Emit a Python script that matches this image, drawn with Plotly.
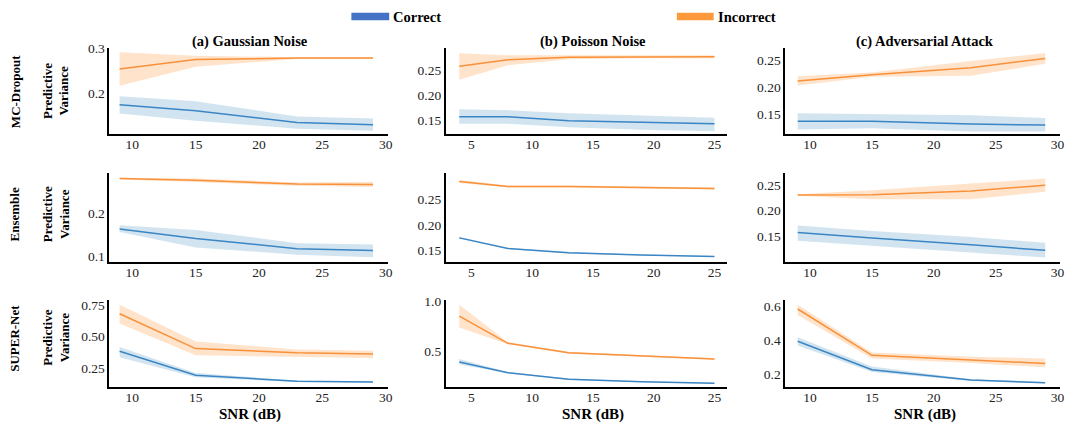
import plotly.graph_objects as go

W, H = 1076, 429

# ---------------- data ----------------
snr_gauss = [9, 15, 23, 29]
snr_poisson = [4, 8, 13, 19, 25]
snr_adv = [9, 15, 23, 29]

# MC-Dropout
mc_g_inc = [0.254, 0.275, 0.278, 0.278]
mc_g_inc_lo = [0.217, 0.259, 0.276, 0.276]
mc_g_inc_hi = [0.291, 0.283, 0.280, 0.280]
mc_g_cor = [0.175, 0.162, 0.136, 0.131]
mc_g_cor_lo = [0.156, 0.140, 0.122, 0.118]
mc_g_cor_hi = [0.194, 0.183, 0.149, 0.145]

mc_p_inc = [0.258, 0.271, 0.276, 0.277, 0.277]
mc_p_inc_lo = [0.231, 0.260, 0.272, 0.274, 0.274]
mc_p_inc_hi = [0.284, 0.280, 0.280, 0.280, 0.280]
mc_p_cor = [0.157, 0.157, 0.149, 0.146, 0.143]
mc_p_cor_lo = [0.143, 0.143, 0.136, 0.131, 0.128]
mc_p_cor_hi = [0.172, 0.170, 0.164, 0.159, 0.155]

mc_a_inc = [0.2115, 0.223, 0.236, 0.253]
mc_a_inc_lo = [0.203, 0.219, 0.221, 0.243]
mc_a_inc_hi = [0.220, 0.227, 0.248, 0.263]
mc_a_cor = [0.137, 0.137, 0.132, 0.130]
mc_a_cor_lo = [0.122, 0.124, 0.118, 0.118]
mc_a_cor_hi = [0.152, 0.150, 0.148, 0.143]

# Ensemble
en_g_inc = [0.282, 0.278, 0.269, 0.268]
en_g_inc_lo = [0.280, 0.274, 0.265, 0.262]
en_g_inc_hi = [0.284, 0.282, 0.273, 0.274]
en_g_cor = [0.164, 0.142, 0.118, 0.114]
en_g_cor_lo = [0.157, 0.121, 0.104, 0.098]
en_g_cor_hi = [0.173, 0.162, 0.131, 0.128]

en_p_inc = [0.286, 0.276, 0.276, 0.274, 0.272]
en_p_inc_lo = [0.283, 0.274, 0.274, 0.272, 0.270]
en_p_inc_hi = [0.289, 0.278, 0.278, 0.276, 0.274]
en_p_cor = [0.174, 0.153, 0.1445, 0.140, 0.137]
en_p_cor_lo = [0.173, 0.152, 0.143, 0.139, 0.136]
en_p_cor_hi = [0.176, 0.154, 0.146, 0.141, 0.138]

en_a_inc = [0.2306, 0.231, 0.2385, 0.250]
en_a_inc_lo = [0.229, 0.2225, 0.2225, 0.237]
en_a_inc_hi = [0.232, 0.240, 0.253, 0.263]
en_a_cor = [0.157, 0.146, 0.133, 0.122]
en_a_cor_lo = [0.141, 0.132, 0.118, 0.108]
en_a_cor_hi = [0.171, 0.160, 0.148, 0.137]

# SUPER-Net
sn_g_inc = [0.682, 0.405, 0.371, 0.361]
sn_g_inc_lo = [0.604, 0.351, 0.340, 0.330]
sn_g_inc_hi = [0.755, 0.462, 0.398, 0.387]
sn_g_cor = [0.384, 0.193, 0.144, 0.138]
sn_g_cor_lo = [0.336, 0.177, 0.139, 0.133]
sn_g_cor_hi = [0.418, 0.211, 0.149, 0.143]

sn_p_inc = [0.856, 0.582, 0.486, 0.455, 0.424]
sn_p_inc_lo = [0.740, 0.572, 0.478, 0.448, 0.417]
sn_p_inc_hi = [0.970, 0.592, 0.494, 0.462, 0.431]
sn_p_cor = [0.395, 0.287, 0.221, 0.195, 0.180]
sn_p_cor_lo = [0.370, 0.280, 0.215, 0.190, 0.175]
sn_p_cor_hi = [0.424, 0.294, 0.227, 0.200, 0.185]

sn_a_inc = [0.585, 0.310, 0.283, 0.262]
sn_a_inc_lo = [0.550, 0.292, 0.265, 0.239]
sn_a_inc_hi = [0.610, 0.327, 0.301, 0.292]
sn_a_cor = [0.394, 0.225, 0.163, 0.148]
sn_a_cor_lo = [0.368, 0.211, 0.158, 0.144]
sn_a_cor_hi = [0.417, 0.244, 0.168, 0.152]

col_titles = ["(a) Gaussian Noise", "(b) Poisson Noise", "(c) Adversarial Attack"]
row_titles = ["MC-Dropout", "Ensemble", "SUPER-Net"]
x_label = "SNR (dB)"
y_label = "Predictive<br>Variance"
legend_names = ["Correct", "Incorrect"]

x_ticks = [[10, 15, 20, 25, 30], [5, 10, 15, 20, 25], [10, 15, 20, 25, 30]]
x_ranges = [[8.2, 30.2], [2.9, 26.0], [8.0, 30.2]]
y_ticks = [
    [[0.2, 0.3], [0.15, 0.20, 0.25], [0.15, 0.20, 0.25]],
    [[0.1, 0.2], [0.15, 0.20, 0.25], [0.15, 0.20, 0.25]],
    [[0.25, 0.50, 0.75], [0.5, 1.0], [0.2, 0.4, 0.6]],
]
y_fmt = [
    [".1f", ".2f", ".2f"],
    [".1f", ".2f", ".2f"],
    [".2f", ".1f", ".1f"],
]
y_ranges = [
    [[0.11, 0.30], [0.122, 0.294], [0.113, 0.272]],
    [[0.088, 0.294], [0.127, 0.302], [0.10, 0.273]],
    [[0.10, 0.794], [0.144, 1.02], [0.123, 0.64]],
]

xs = [snr_gauss, snr_poisson, snr_adv]
data = [
    [(mc_g_cor, mc_g_cor_lo, mc_g_cor_hi, mc_g_inc, mc_g_inc_lo, mc_g_inc_hi),
     (mc_p_cor, mc_p_cor_lo, mc_p_cor_hi, mc_p_inc, mc_p_inc_lo, mc_p_inc_hi),
     (mc_a_cor, mc_a_cor_lo, mc_a_cor_hi, mc_a_inc, mc_a_inc_lo, mc_a_inc_hi)],
    [(en_g_cor, en_g_cor_lo, en_g_cor_hi, en_g_inc, en_g_inc_lo, en_g_inc_hi),
     (en_p_cor, en_p_cor_lo, en_p_cor_hi, en_p_inc, en_p_inc_lo, en_p_inc_hi),
     (en_a_cor, en_a_cor_lo, en_a_cor_hi, en_a_inc, en_a_inc_lo, en_a_inc_hi)],
    [(sn_g_cor, sn_g_cor_lo, sn_g_cor_hi, sn_g_inc, sn_g_inc_lo, sn_g_inc_hi),
     (sn_p_cor, sn_p_cor_lo, sn_p_cor_hi, sn_p_inc, sn_p_inc_lo, sn_p_inc_hi),
     (sn_a_cor, sn_a_cor_lo, sn_a_cor_hi, sn_a_inc, sn_a_inc_lo, sn_a_inc_hi)],
]

# ---------------- style / layout ----------------
SERIF = "Liberation Serif"
BLUE_LINE = "#3a86c4"
ORANGE_LINE = "#f8913a"
BLUE_FILL = "rgba(31,119,180,0.20)"
ORANGE_FILL = "rgba(255,127,14,0.22)"
BLUE_SW = "#4472c4"
ORANGE_SW = "#ff9a3c"

col_px = [(110, 390), (448, 730), (789, 1065)]
row_px = [(42, 130), (170, 260), (299, 388)]


def px_x(p):
    return p / W


def px_y(p):
    return 1 - p / H


fig = go.Figure()
layout = dict(
    width=W, height=H,
    margin=dict(l=0, r=0, t=0, b=0),
    paper_bgcolor="white", plot_bgcolor="white",
    showlegend=False,
    font=dict(family=SERIF, color="#222"),
)

annotations = []
shapes = []

for r in range(3):
    for c in range(3):
        idx = r * 3 + c + 1
        xa = "x" if idx == 1 else f"x{idx}"
        ya = "y" if idx == 1 else f"y{idx}"
        xkey = "xaxis" if idx == 1 else f"xaxis{idx}"
        ykey = "yaxis" if idx == 1 else f"yaxis{idx}"
        x0, x1 = col_px[c]
        y0, y1 = row_px[r]
        axis_common = dict(
            showline=True, linecolor="black", linewidth=2,
            showgrid=False, zeroline=False, ticks="",
            tickfont=dict(family=SERIF, size=13.5, color="#222"),
        )
        layout[xkey] = dict(
            domain=[px_x(x0), px_x(x1)], anchor=ya,
            range=x_ranges[c], tickvals=x_ticks[c],
            ticklabelstandoff=-3, **axis_common,
        )
        layout[ykey] = dict(
            domain=[px_y(y1), px_y(y0)], anchor=xa,
            range=y_ranges[r][c], tickvals=y_ticks[r][c],
            tickformat=y_fmt[r][c], **axis_common,
        )
        cor, cor_lo, cor_hi, inc, inc_lo, inc_hi = data[r][c]
        xv = xs[c]
        for mean, lo, hi, lc, fc in [
            (cor, cor_lo, cor_hi, BLUE_LINE, BLUE_FILL),
            (inc, inc_lo, inc_hi, ORANGE_LINE, ORANGE_FILL),
        ]:
            fig.add_trace(go.Scatter(
                x=list(xv) + list(xv)[::-1], y=list(hi) + list(lo)[::-1],
                fill="toself", fillcolor=fc, line=dict(width=0),
                mode="lines", hoverinfo="skip", xaxis=xa, yaxis=ya,
            ))
            fig.add_trace(go.Scatter(
                x=xv, y=mean, mode="lines", line=dict(color=lc, width=1.5),
                xaxis=xa, yaxis=ya,
            ))

# column titles + x labels
col_centers = [251, 596, 929]
for c in range(3):
    annotations.append(dict(
        text=f"<b>{col_titles[c]}</b>", x=px_x(col_centers[c]), y=px_y(35),
        xref="paper", yref="paper", showarrow=False,
        font=dict(family=SERIF, size=14.5, color="black"),
        xanchor="center", yanchor="middle",
    ))
    annotations.append(dict(
        text=f"<b>{x_label}</b>", x=px_x(col_centers[c]), y=px_y(416),
        xref="paper", yref="paper", showarrow=False,
        font=dict(family=SERIF, size=15, color="black"),
        xanchor="center", yanchor="middle",
    ))

# row titles
row_centers = [86, 212, 338]
for r in range(3):
    annotations.append(dict(
        text=f"<b>{row_titles[r]}</b>", x=px_x(15), y=px_y(row_centers[r]),
        xref="paper", yref="paper", showarrow=False, textangle=-90,
        font=dict(family=SERIF, size=13, color="black"),
        xanchor="center", yanchor="middle",
    ))
    annotations.append(dict(
        text=f"<b>{y_label}</b>", x=px_x(56), y=px_y(row_centers[r]),
        xref="paper", yref="paper", showarrow=False, textangle=-90,
        font=dict(family=SERIF, size=13, color="black"),
        xanchor="center", yanchor="middle",
    ))

# legend (top)
for (sx0, sx1, col, name) in [(353, 391, BLUE_SW, legend_names[0]),
                              (680, 717, ORANGE_SW, legend_names[1])]:
    shapes.append(dict(
        type="rect", xref="paper", yref="paper",
        x0=px_x(sx0), x1=px_x(sx1), y0=px_y(13.5), y1=px_y(6),
        fillcolor=col, line=dict(width=0),
    ))
    annotations.append(dict(
        text=f"<b>{name}</b>", x=px_x(sx1 + 2), y=px_y(10),
        xref="paper", yref="paper", showarrow=False,
        font=dict(family=SERIF, size=14.5, color="black"),
        xanchor="left", yanchor="middle",
    ))

layout["annotations"] = annotations
layout["shapes"] = shapes
fig.update_layout(**layout)

fig.write_html(
    "out.html",
    config={"displayModeBar": False},
    post_script=(
        "document.body.style.margin='0';"
        "var d=document.getElementById('{plot_id}');"
        "d.style.position='fixed';d.style.top='0px';d.style.left='0px';"
    ),
)
